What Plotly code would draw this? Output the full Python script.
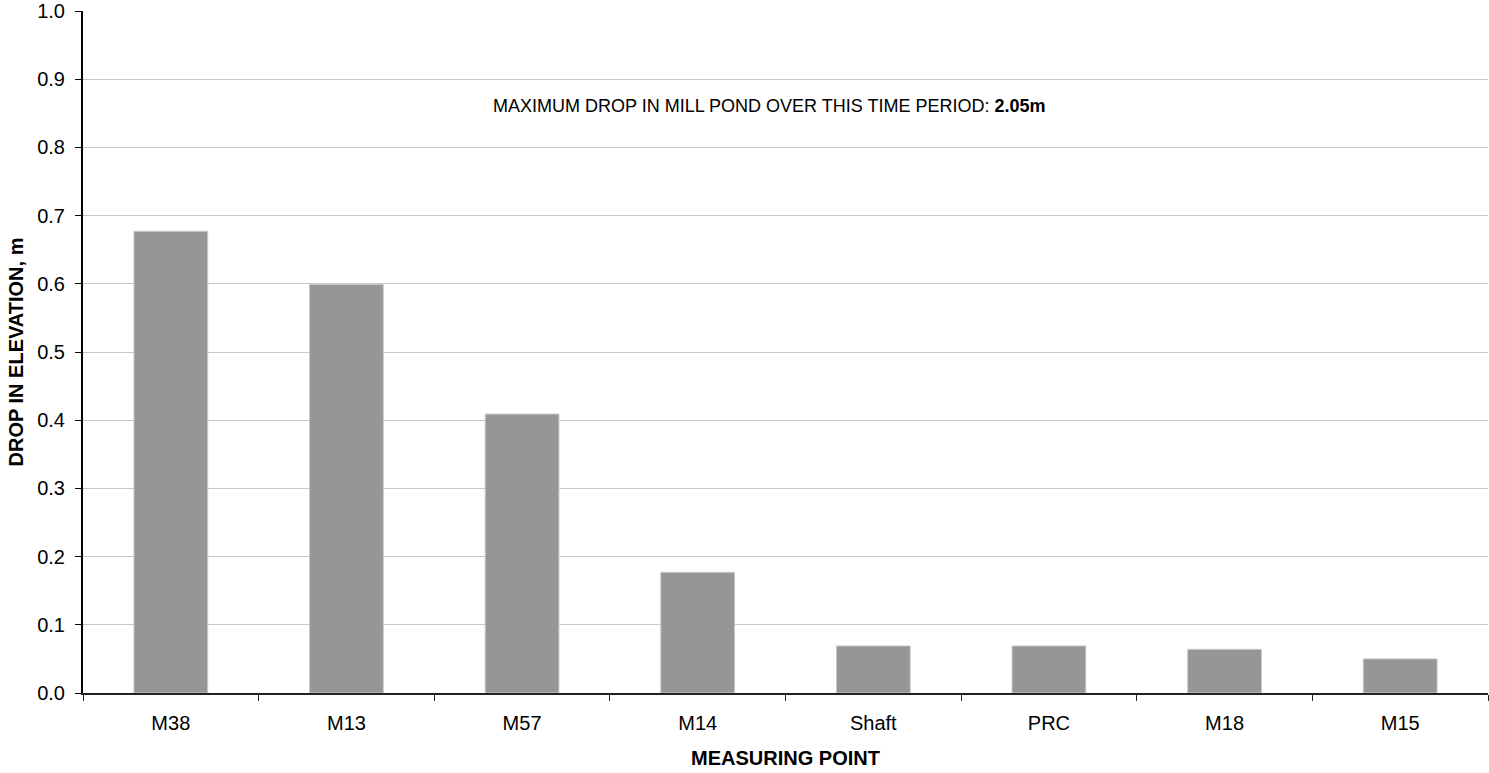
import plotly.graph_objects as go

categories = ["M38", "M13", "M57", "M14", "Shaft", "PRC", "M18", "M15"]
drop_m = [0.677, 0.599, 0.409, 0.177, 0.069, 0.069, 0.064, 0.050]
y_ticks = [0.0, 0.1, 0.2, 0.3, 0.4, 0.5, 0.6, 0.7, 0.8, 0.9, 1.0]

FONT = "Liberation Sans, Arial, sans-serif"

fig = go.Figure()
fig.add_trace(go.Bar(
    x=categories, y=drop_m,
    marker=dict(color="#969696", line=dict(color="#c8c8c8", width=1)),
    width=0.42,
))

fig.update_layout(
    width=1489, height=773,
    margin=dict(l=83, r=1, t=11, b=80),
    plot_bgcolor="white", paper_bgcolor="white",
    showlegend=False,
    font=dict(family=FONT, size=20, color="black"),
    xaxis=dict(
        showline=True, linecolor="#222222", linewidth=2,
        ticks="outside", ticklen=6, tickcolor="#222222", tickwidth=1,
        tickson="boundaries", showgrid=False,
        title=dict(text="<b>MEASURING POINT</b>", font=dict(size=20), standoff=18),
        tickfont=dict(size=20),
        ticklabelstandoff=11,
        automargin=False,
    ),
    yaxis=dict(
        range=[0, 1.0], tickvals=y_ticks, tickformat=".1f",
        showline=True, linecolor="black", linewidth=2,
        ticks="outside", ticklen=6, tickcolor="black",
        showgrid=True, gridcolor="#c8c8c8", gridwidth=1,
        zeroline=False,
        title=dict(text="<b>DROP IN ELEVATION, m</b>", font=dict(size=20), standoff=8),
        tickfont=dict(size=20),
        ticklabelstandoff=6,
        automargin=False,
    ),
    annotations=[dict(
        text="MAXIMUM DROP IN MILL POND OVER THIS TIME PERIOD: <b>2.05m</b>",
        xref="paper", yref="y", x=0.488, y=0.860,
        showarrow=False, font=dict(size=18, family=FONT),
    )],
)

fig.write_html("out.html")
